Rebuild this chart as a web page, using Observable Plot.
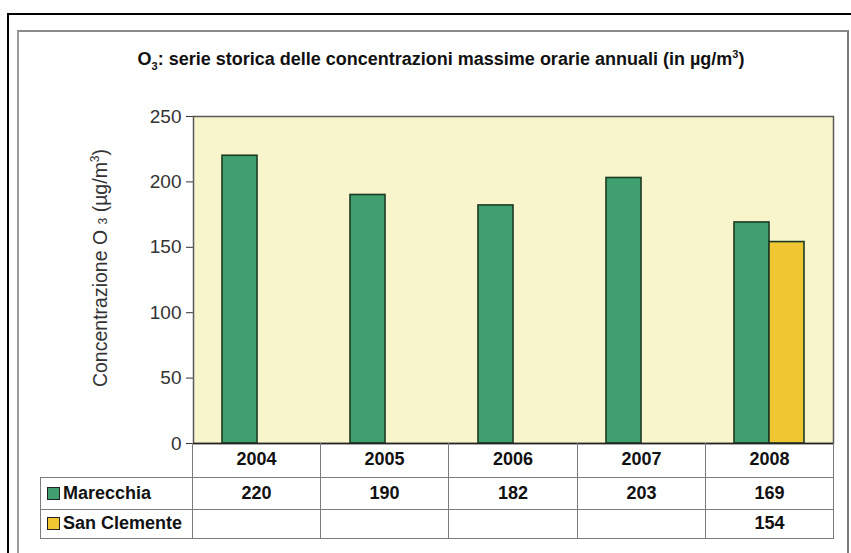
<!DOCTYPE html>
<html>
<head>
<meta charset="utf-8">
<script src="https://cdn.jsdelivr.net/npm/d3@7"></script>
<script src="https://cdn.jsdelivr.net/npm/@observablehq/plot@0.6"></script>
<style>
  html, body { margin: 0; padding: 0; background: #fff; }
  body { width: 851px; height: 553px; overflow: hidden; position: relative; font-family: "Liberation Sans", Arial, sans-serif; }
  #outer { position: absolute; left: 7px; top: 13px; width: 860px; height: 600px; border: 2.5px solid #000; box-sizing: border-box; }
  #panel { position: absolute; left: 17px; top: 30px; width: 832px; height: 600px; border: 2px solid #7a7a7a; border-top-color: #8a8a8a; border-left-color: #9a9a9a; box-sizing: border-box; background: #fff; }
  #title { position: absolute; left: 41px; width: 800px; top: 48px; text-align: center; font-weight: bold; font-size: 18px; color: #111; }
  #title sub, #title sup { font-size: 11px; }
  #ylabel { position: absolute; left: 100px; top: 268px; transform: translate(-50%, -50%) rotate(-90deg); white-space: nowrap; font-size: 19.5px; color: #333; }
  #ylabel .s { font-size: 12px; }
  #chart { position: absolute; left: 0; top: 0; }
  table { position: absolute; left: 40px; top: 443px; border-collapse: collapse; table-layout: fixed; font-weight: bold; font-size: 18px; color: #111; }
  td { border: 1px solid #7c7c7c; text-align: center; padding: 0; }
  td.lab { text-align: left; padding-left: 6px; }
  .sw { display: inline-block; width: 11px; height: 11px; border: 1px solid #222; margin-right: 3px; vertical-align: -1px; }
</style>
</head>
<body>
<div id="outer"></div>
<div id="panel"></div>
<div id="title">O<sub>3</sub>: serie storica delle concentrazioni massime orarie annuali (in µg/m<sup>3</sup>)</div>
<div id="ylabel">Concentrazione O <span class="s">3</span> (µg/m<sup style="font-size:12px">3</sup>)</div>
<div id="chart"></div>
<script>
const years = ["2004", "2005", "2006", "2007", "2008"];
const series = ["Marecchia", "San Clemente"];
const marecchia = [220, 190, 182, 203, 169];
const sanClemente = [null, null, null, null, 154];
const seriesColors = ["#3f9f6e", "#f0c733"];
const yTicks = [0, 50, 100, 150, 200, 250];
const bgColor = "#f8f4cc";

const values = [marecchia, sanClemente];
const data = [];
years.forEach((yr, i) => {
  series.forEach((s, j) => {
    const v = values[j][i];
    if (v != null) data.push({ year: yr, series: s, value: v });
  });
});

const chart = Plot.plot({
  width: 851,
  height: 458,
  marginLeft: 192,
  marginRight: 18,
  marginTop: 116,
  marginBottom: 15,
  style: { background: "transparent", fontFamily: "Liberation Sans, Arial, sans-serif", fontSize: "19px", color: "#333" },
  fx: { domain: years, padding: 0, axis: null },
  x: { domain: series, paddingInner: 0, paddingOuter: 0.78, axis: null },
  y: { domain: [0, 250], ticks: yTicks, tickSize: 7, tickPadding: 5, label: null },
  color: { domain: series, range: seriesColors },
  marks: [
    Plot.frame({ facet: "super", fill: bgColor, stroke: "#5a5a5a", strokeWidth: 1.5 }),
    Plot.barY(data, { fx: "year", x: "series", y: "value", fill: "series", stroke: "#1d3a24", strokeWidth: 1.6 }),
    Plot.ruleY([0], { stroke: "#222", strokeWidth: 1.5 })
  ]
});
document.getElementById("chart").appendChild(chart);

// Data table below the chart
const table = document.createElement("table");
const colWidths = [152, 128, 128, 129, 128, 128];
const cg = document.createElement("colgroup");
colWidths.forEach(w => { const c = document.createElement("col"); c.style.width = w + "px"; cg.appendChild(c); });
table.appendChild(cg);
const hr = document.createElement("tr");
hr.style.height = "34px";
const h0 = document.createElement("td");
h0.style.borderLeft = "none"; h0.style.borderTop = "none";
hr.appendChild(h0);
years.forEach(y => { const td = document.createElement("td"); td.textContent = y; td.style.borderTop = "none"; hr.appendChild(td); });
table.appendChild(hr);
series.forEach((s, j) => {
  const tr = document.createElement("tr");
  tr.style.height = j === 0 ? "32px" : "29px";
  const lab = document.createElement("td");
  lab.className = "lab";
  const sw = document.createElement("span");
  sw.className = "sw";
  sw.style.background = seriesColors[j];
  lab.appendChild(sw);
  lab.appendChild(document.createTextNode(s));
  tr.appendChild(lab);
  years.forEach((y, i) => {
    const td = document.createElement("td");
    const v = values[j][i];
    td.textContent = v == null ? "" : v;
    tr.appendChild(td);
  });
  table.appendChild(tr);
});
document.body.appendChild(table);
</script>
</body>
</html>
